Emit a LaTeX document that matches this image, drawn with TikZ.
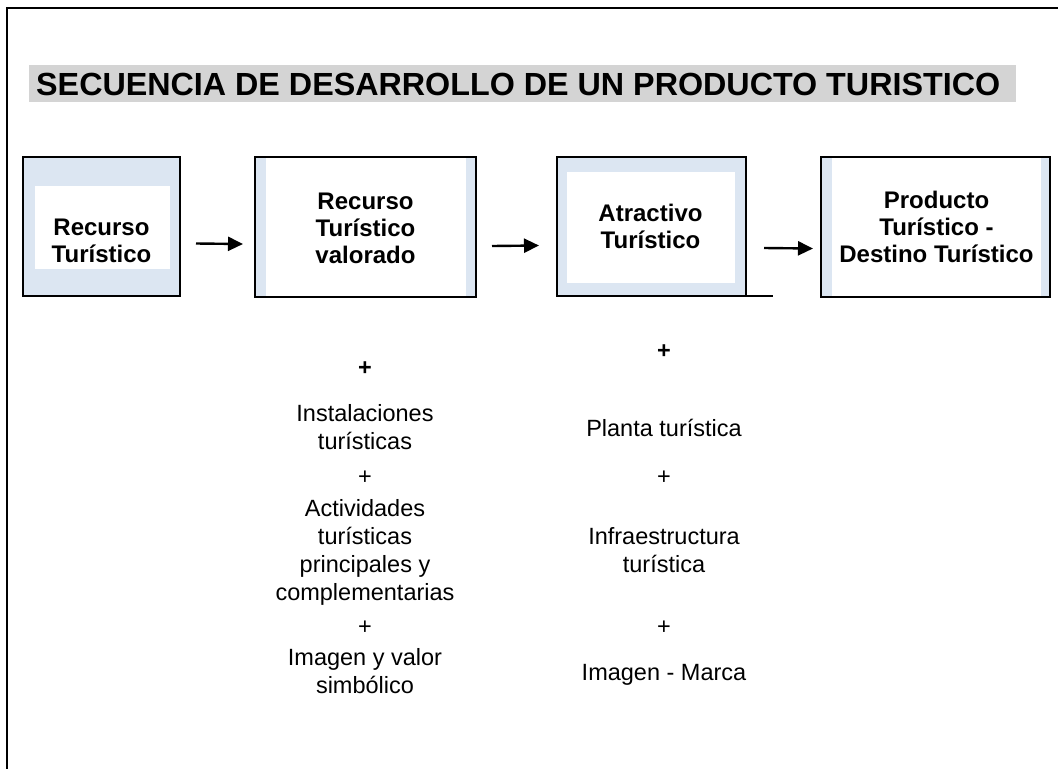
\documentclass[tikz,border=0pt]{standalone}
\usepackage{graphicx}
\usepackage{fontspec}
\setmainfont{Liberation Sans}
\usetikzlibrary{arrows.meta}
\definecolor{lblue}{HTML}{DCE6F2}
\definecolor{tgray}{HTML}{D4D4D4}
\begin{document}
\begin{tikzpicture}[x=1pt,y=-1pt,
  boxbase/.style={draw=black,line width=2pt,inner sep=0pt,outer sep=0pt,anchor=north west},
  boxtext/.style={inner sep=0pt,align=center,font=\bfseries\fontsize{24pt}{27pt}\selectfont,
    execute at begin node=\strut,execute at end node=\strut},
  framed/.style n args={4}{boxbase,fill=lblue,path picture={
    \fill[white] ([shift={(#1pt,-#3pt)}]path picture bounding box.north west)
      rectangle ([shift={(-#2pt,#4pt)}]path picture bounding box.south east);}},
  striped/.style n args={2}{boxbase,fill=white,path picture={
    \fill[lblue] (path picture bounding box.north west)
      rectangle ([xshift=#1pt]path picture bounding box.south west);
    \fill[lblue] ([xshift=-#2pt]path picture bounding box.north east)
      rectangle (path picture bounding box.south east);}},
  arr/.style={line width=2.4pt,-{Triangle[length=15pt,width=14pt]}},
  lowtext/.style={inner sep=0pt,align=center,font=\fontsize{23.5pt}{28pt}\selectfont,
    execute at begin node=\strut,execute at end node=\strut},
  plusb/.style={lowtext,font=\bfseries\fontsize{23.5pt}{28pt}\selectfont}
]
\useasboundingbox (0,0) rectangle (1058,769);
\fill[white] (0,0) rectangle (1058,769);
% frame
\draw[line width=2.7pt] (1058,8) -- (7,8) -- (7,769);
% title
\node[fill=tgray,inner sep=0pt,minimum width=987pt,minimum height=37pt,anchor=north west] (band) at (29,65) {};
\node[anchor=base west,inner sep=0pt,font=\bfseries\fontsize{32pt}{32pt}\selectfont] (title) at (36,95)
  {\resizebox{964pt}{\height}{SECUENCIA DE DESARROLLO DE UN PRODUCTO TURISTICO}};
% boxes
\node[framed={12}{10}{29}{27},minimum width=157pt,minimum height=139pt] (b1) at (23,157) {};
\node[striped={11}{10},minimum width=221pt,minimum height=140pt] (b2) at (255,157) {};
\node[framed={10}{11}{15}{13},minimum width=189pt,minimum height=139pt] (b3) at (557,157) {};
\node[striped={11}{9},minimum width=229pt,minimum height=140pt] (b4) at (821,157) {};
\draw[line width=2pt] (b3.south east) -- ++(27,0);
\node[boxtext] (t1) at ([yshift=-18pt]b1.center) {Recurso\\Turístico};
\node[boxtext] (t2) at ([yshift=-5pt]b2.center) {Recurso\\Turístico\\valorado};
\node[boxtext] (t3) at ([xshift=-1pt,yshift=-4pt]b3.center) {Atractivo\\Turístico};
\node[boxtext] (t4) at ([xshift=1pt,yshift=-4pt]b4.center) {Producto\\Turístico -\\Destino Turístico};
% arrows
\draw[arr] ([xshift=16pt,yshift=-17pt]b1.east) -- ([xshift=-12pt,yshift=-17pt]b2.west);
\draw[arr] ([xshift=16pt,yshift=-19pt]b2.east) -- ([xshift=-18pt,yshift=-19pt]b3.west);
\draw[arr] ([xshift=18pt,yshift=-21.5pt]b3.east) -- ([xshift=-8pt,yshift=-21.5pt]b4.west);
% column 1
\node[plusb] (p1a) at (365,370) {+};
\node[lowtext] (c1a) at (365,431) {Instalaciones\\turísticas};
\node[lowtext] (p1b) at (365,479) {+};
\node[lowtext] (c1b) at (365,554) {Actividades\\turísticas\\principales y\\complementarias};
\node[lowtext] (p1c) at (365,629) {+};
\node[lowtext] (c1c) at (365,675) {Imagen y valor\\simbólico};
% column 2
\node[plusb] (p2a) at (664,353) {+};
\node[lowtext] (c2a) at (664,431) {Planta turística};
\node[lowtext] (p2b) at (664,479) {+};
\node[lowtext] (c2b) at (664,554) {Infraestructura\\turística};
\node[lowtext] (p2c) at (664,629) {+};
\node[lowtext] (c2c) at (664,675) {Imagen - Marca};
\end{tikzpicture}
\end{document}
